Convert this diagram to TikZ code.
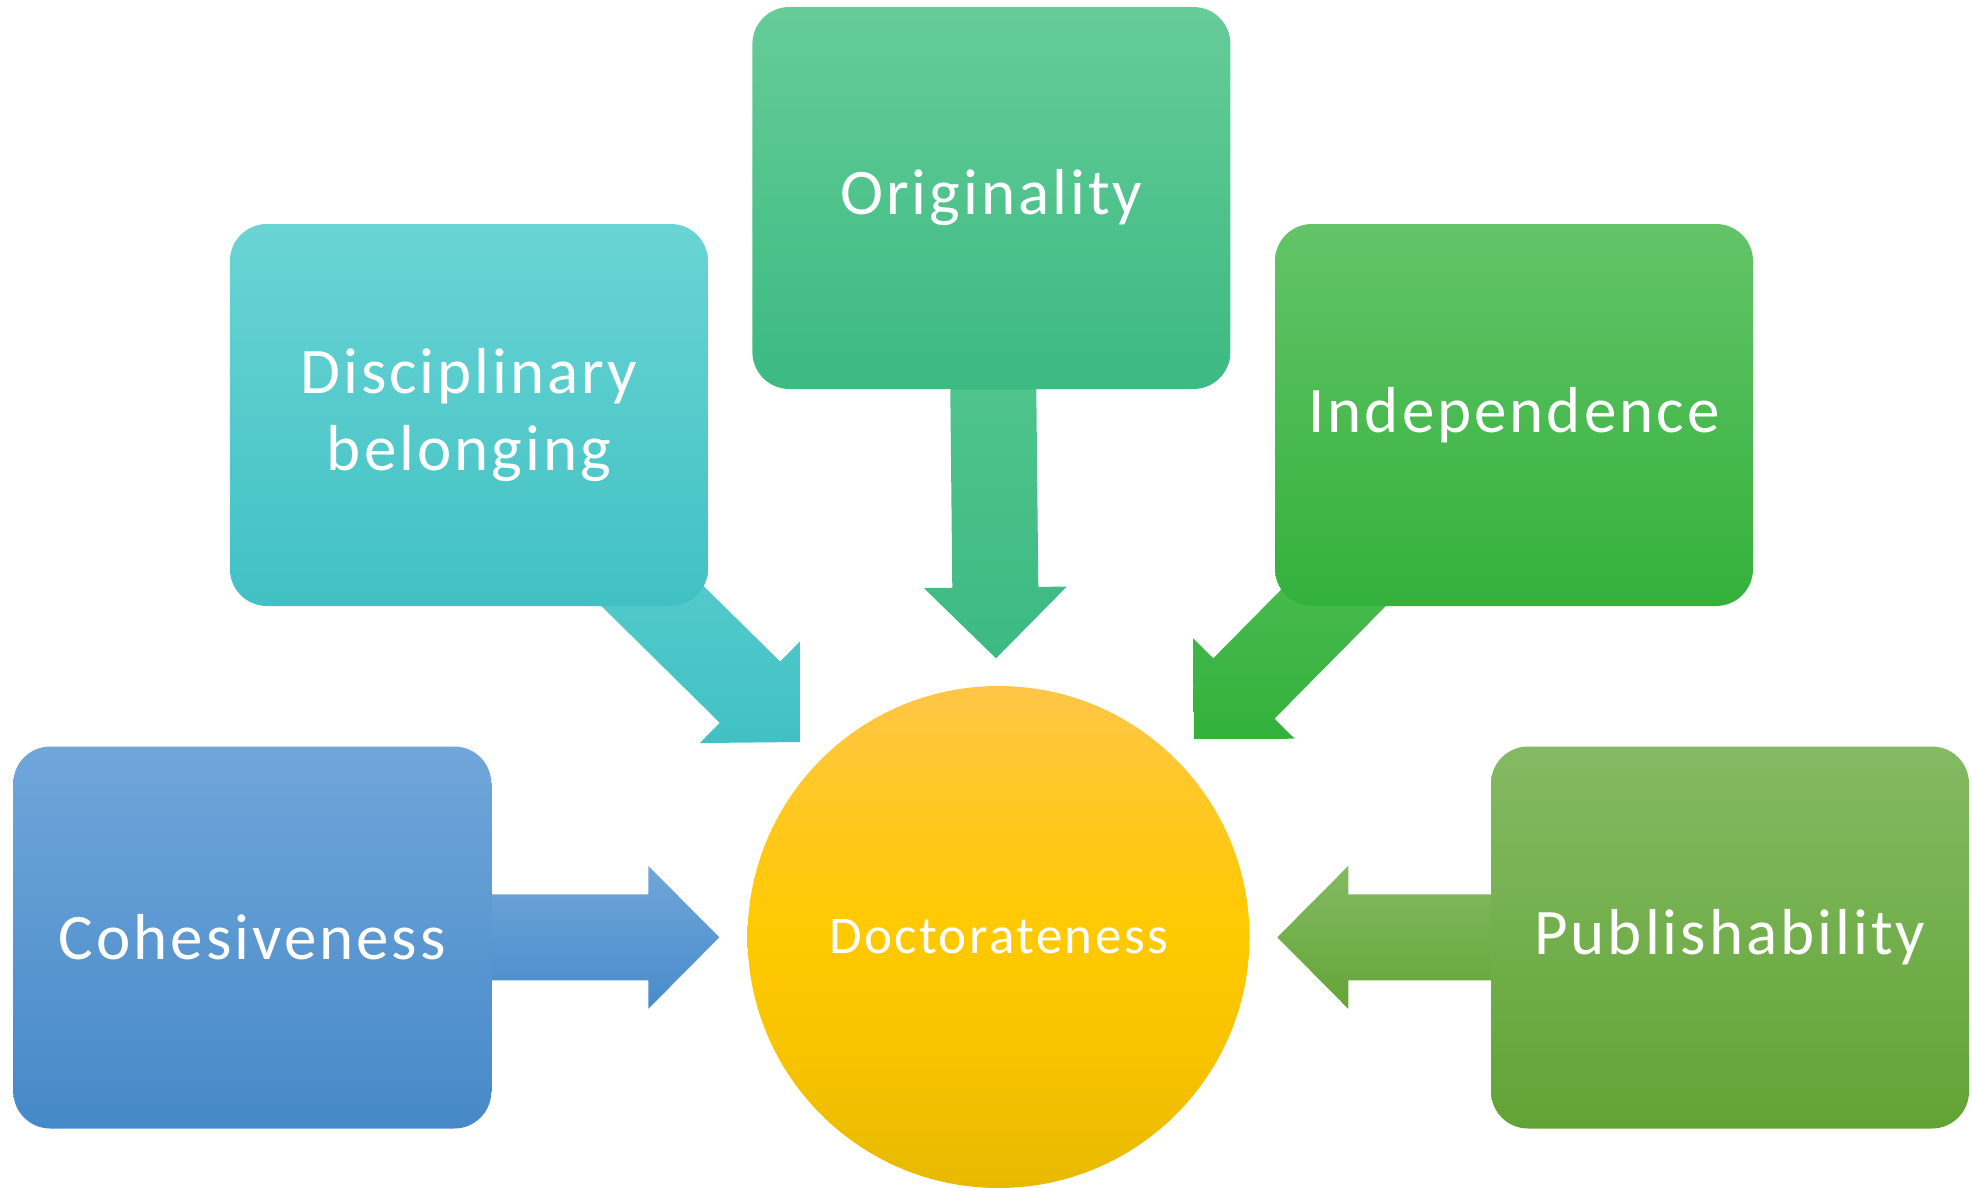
\documentclass[tikz,border=0pt]{standalone}
\usepackage{fontspec}
\setmainfont{Carlito}[LetterSpace=4.6]
\usetikzlibrary{calc}
\definecolor{origT}{HTML}{66CC99}\definecolor{origM}{HTML}{4BC98D}\definecolor{origB}{HTML}{3BBA81}
\definecolor{discT}{HTML}{6AD4D4}\definecolor{discM}{HTML}{50D1D4}\definecolor{discB}{HTML}{41C1C4}
\definecolor{indT}{HTML}{63C468}\definecolor{indM}{HTML}{44BE4A}\definecolor{indB}{HTML}{33B13B}
\definecolor{cohT}{HTML}{70A6DA}\definecolor{cohM}{HTML}{5A9CDB}\definecolor{cohB}{HTML}{4689C8}
\definecolor{pubT}{HTML}{84BA63}\definecolor{pubM}{HTML}{72AF47}\definecolor{pubB}{HTML}{62A335}
\definecolor{docT}{HTML}{FFC647}\definecolor{docQ}{HTML}{FFC81E}\definecolor{docM}{HTML}{FFC900}
\definecolor{docR}{HTML}{F8C300}\definecolor{docB}{HTML}{E7B900}
\pgfdeclareverticalshading{docshade}{100bp}{color(0bp)=(docB); color(25bp)=(docB);
  color(38bp)=(docR); color(50bp)=(docM); color(62bp)=(docQ); color(75bp)=(docT); color(100bp)=(docT)}
\newcommand\blockarr[3]{%
  \coordinate (ba-b) at ($(#2)!35.5pt!(#1)$);
  \path[#3] ($(#1)!21.5pt!90:(#2)$) -- ($(ba-b)!21.5pt!90:(#2)$)
    -- ($(ba-b)!35.75pt!90:(#2)$) -- (#2)
    -- ($(ba-b)!35.75pt!-90:(#2)$) -- ($(ba-b)!21.5pt!-90:(#2)$)
    -- ($(#1)!21.5pt!-90:(#2)$) -- cycle;
}
\tikzset{
  box/.style={rounded corners=18.5pt, minimum width=239pt, minimum height=191pt,
    inner sep=0pt, text=white, align=center,
    font=\fontsize{32.5pt}{38.5pt}\selectfont},
  hub/.style={circle, minimum size=251pt, inner sep=0pt, text=white,
    shading=docshade, font=\fontsize{26.5pt}{30pt}\selectfont}
}
\begin{document}
\begin{tikzpicture}[x=0.5pt,y=-0.5pt]
\useasboundingbox (0,0) rectangle (1972,1188);
% named positions
\coordinate (origC) at (991.4,198);
\coordinate (discC) at (468.9,415);
\coordinate (indC) at (1514,415);
\coordinate (cohC) at (252.3,937.5);
\coordinate (pubC) at (1730,937.5);
\coordinate (tOrig) at (996,658.3);
\coordinate (tDisc) at (800.5,742);
\coordinate (tInd) at (1194,739);
\coordinate (tCoh) at (719.3,937.3);
\coordinate (tPub) at (1277.3,937.3);
% arrows (drawn below boxes)
\blockarr{origC}{tOrig}{top color=origT!70!origM, bottom color=origB}
\blockarr{discC}{tDisc}{top color=discT, middle color=discM, bottom color=discB}
\blockarr{indC}{tInd}{top color=indT, middle color=indM, bottom color=indB}
\blockarr{cohC}{tCoh}{top color=cohT, middle color=cohM, bottom color=cohB!90!cohM}
\blockarr{pubC}{tPub}{top color=pubT, middle color=pubM, bottom color=pubB!90!pubM}
% boxes
\node[box, top color=origT, middle color=origM, bottom color=origB] (orig) at (origC) {Originality};
\node[box, top color=discT, middle color=discM, bottom color=discB] (disc) at (discC) {Disciplinary\\belonging};
\node[box, top color=indT, middle color=indM, bottom color=indB] (ind) at (indC) {Independence};
\node[box, top color=cohT, middle color=cohM, bottom color=cohB] (coh) at (cohC) {Cohesiveness};
\node[box, top color=pubT, middle color=pubM, bottom color=pubB] (pub) at (pubC) {Publishability};
\node[hub, shade] (doc) at (998.5,937) {Doctorateness};
\end{tikzpicture}
\end{document}
